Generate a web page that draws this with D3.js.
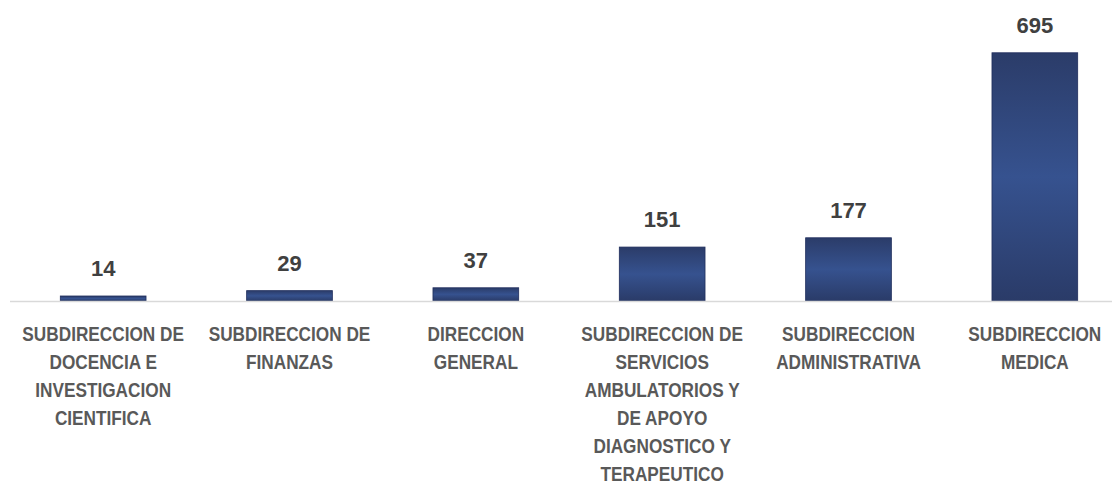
<!DOCTYPE html>
<html>
<head>
<meta charset="utf-8">
<script src="https://cdn.jsdelivr.net/npm/d3@7"></script>
<style>
  html, body { margin: 0; padding: 0; background: #ffffff; }
  svg { display: block; }
</style>
</head>
<body>
<svg id="chart" width="1112" height="485"></svg>
<script>
const categories = [
  "SUBDIRECCION DE DOCENCIA E INVESTIGACION CIENTIFICA",
  "SUBDIRECCION DE FINANZAS",
  "DIRECCION GENERAL",
  "SUBDIRECCION DE SERVICIOS AMBULATORIOS Y DE APOYO DIAGNOSTICO Y TERAPEUTICO",
  "SUBDIRECCION ADMINISTRATIVA",
  "SUBDIRECCION MEDICA"
];
const values = [14, 29, 37, 151, 177, 695];
const tickLines = [
  ["SUBDIRECCION DE", "DOCENCIA E", "INVESTIGACION", "CIENTIFICA"],
  ["SUBDIRECCION DE", "FINANZAS"],
  ["DIRECCION", "GENERAL"],
  ["SUBDIRECCION DE", "SERVICIOS", "AMBULATORIOS Y", "DE APOYO", "DIAGNOSTICO Y", "TERAPEUTICO"],
  ["SUBDIRECCION", "ADMINISTRATIVA"],
  ["SUBDIRECCION", "MEDICA"]
];

const svg = d3.select("#chart");
const baseY = 301;

const x = d3.scaleBand()
  .domain(categories)
  .range([10, 1128])
  .paddingInner(0.54)
  .paddingOuter(0.27);

const y = d3.scaleLinear()
  .domain([0, 700])
  .range([baseY, 51]);

const defs = svg.append("defs");
const grad = defs.append("linearGradient")
  .attr("id", "barGrad")
  .attr("x1", 0).attr("y1", 0).attr("x2", 0).attr("y2", 1);
grad.append("stop").attr("offset", "0%").attr("stop-color", "#2b3c69");
grad.append("stop").attr("offset", "50%").attr("stop-color", "#36528f");
grad.append("stop").attr("offset", "100%").attr("stop-color", "#2a3b68");

// bars
svg.append("g").selectAll("rect")
  .data(values)
  .join("rect")
  .attr("x", (d, i) => x(categories[i]))
  .attr("y", d => y(d))
  .attr("width", x.bandwidth())
  .attr("height", d => baseY - y(d))
  .attr("fill", "url(#barGrad)")
  .attr("stroke", "#1f2d5c")
  .attr("stroke-width", 0.8);

// axis
const axis = d3.axisBottom(x).tickSize(0).tickPadding(0).tickFormat("");
const gAxis = svg.append("g")
  .attr("transform", `translate(0,${baseY})`)
  .call(axis);
gAxis.select(".domain").remove();
svg.append("line")
  .attr("x1", 10).attr("x2", 1112)
  .attr("y1", baseY + 0.5).attr("y2", baseY + 0.5)
  .attr("stroke", "#d9d9d9")
  .attr("stroke-width", 1.5);

// category labels (horizontally condensed to mimic the narrow original face)
gAxis.selectAll(".tick").each(function(d, i) {
  const t = d3.select(this).append("text")
    .attr("text-anchor", "middle")
    .attr("transform", "scale(0.84,1)")
    .attr("fill", "#595959")
    .style("font-family", "'Liberation Sans', Arial, sans-serif")
    .style("font-weight", "bold")
    .style("font-size", "20.5px");
  tickLines[i].forEach((line, j) => {
    t.append("tspan")
      .attr("x", 0)
      .attr("y", 40 + j * 28)
      .text(line);
  });
});

// data labels
svg.append("g").selectAll("text")
  .data(values)
  .join("text")
  .attr("x", (d, i) => x(categories[i]) + x.bandwidth() / 2)
  .attr("y", d => y(d) - 20)
  .attr("text-anchor", "middle")
  .attr("fill", "#404040")
  .style("font-family", "'Liberation Sans', Arial, sans-serif")
  .style("font-weight", "bold")
  .style("font-size", "22px")
  .text(d => d);
</script>
</body>
</html>
